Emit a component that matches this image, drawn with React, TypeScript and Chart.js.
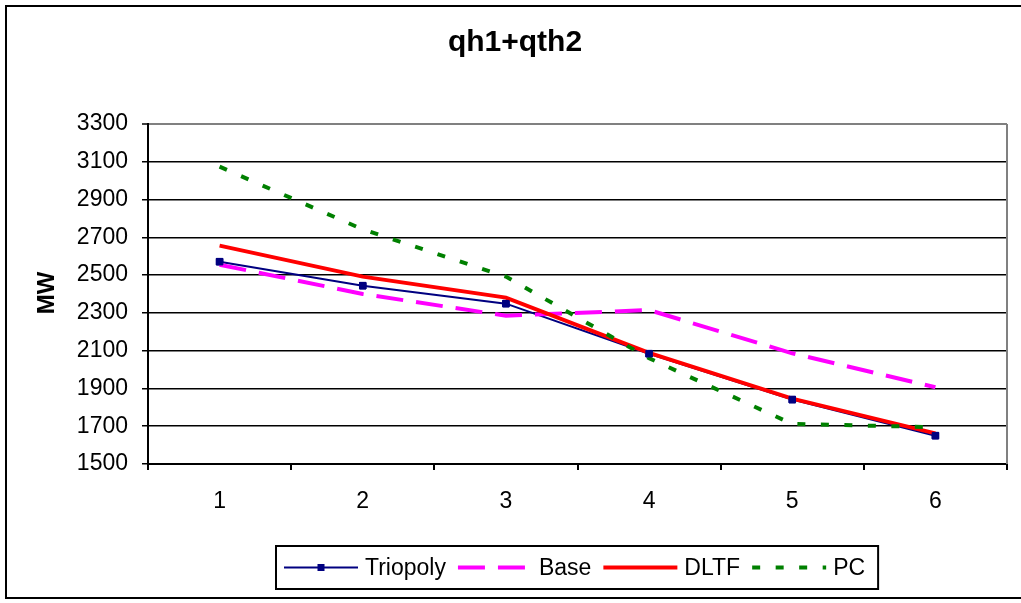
import React, { useEffect, useRef } from "react";
import { Chart, registerables } from "chart.js";

Chart.register(...registerables);

// ---- data ----
const categories = ["1", "2", "3", "4", "5", "6"];
const seriesNames = ["Triopoly", "Base", "DLTF", "PC"];
const triopolyValues = [2571, 2444, 2349, 2084, 1841, 1650];
const baseValues = [2555, 2400, 2285, 2315, 2086, 1906];
const dltfValues = [2656, 2492, 2381, 2088, 1846, 1662];
const pcValues = [3074, 2742, 2492, 2060, 1712, 1695];
const yMin = 1500;
const yMax = 3300;
const yStep = 200;
const chartTitle = "qh1+qth2";
const yAxisTitle = "MW";

const FONT = '"Liberation Sans", Arial, sans-serif';

const decorPlugin = {
  id: "decor",
  afterDatasetsDraw(chart: any) {
    // markers of the first series sit above all lines
    const meta = chart.getDatasetMeta(0);
    const ctx = chart.ctx;
    ctx.save();
    meta.data.forEach((p: any) => p.draw(ctx, chart.chartArea));
    ctx.restore();
  },
  afterDraw(chart: any) {
    const ctx = chart.ctx;
    const ca = chart.chartArea;
    ctx.save();
    // plot area right border (gray)
    ctx.strokeStyle = "#808080";
    ctx.lineWidth = 2;
    ctx.beginPath();
    ctx.moveTo(ca.right, ca.top);
    ctx.lineTo(ca.right, ca.bottom);
    ctx.stroke();

    // outer chart border
    ctx.strokeStyle = "#000";
    ctx.lineWidth = 2;
    ctx.strokeRect(6, 6, 1100, 592);

    // title
    ctx.fillStyle = "#000";
    ctx.font = `bold 30px ${FONT}`;
    ctx.textAlign = "center";
    ctx.textBaseline = "alphabetic";
    ctx.fillText(chartTitle, 515, 51);

    // y axis title
    ctx.save();
    ctx.translate(47, 293);
    ctx.rotate(-Math.PI / 2);
    ctx.font = `bold 24px ${FONT}`;
    ctx.textAlign = "center";
    ctx.textBaseline = "middle";
    ctx.fillText(yAxisTitle, 0, 0);
    ctx.restore();

    // legend
    ctx.font = `23px ${FONT}`;
    const pad = 8, sampleW = 74, textGap = 7, itemGap = 12, padR = 13;
    const ds = chart.data.datasets;
    const widths = ds.map((d: any) => ctx.measureText(d.label).width);
    let total = pad + padR + itemGap * (ds.length - 1);
    widths.forEach((w: number) => (total += sampleW + textGap + w));
    const boxX = Math.round((ca.left + ca.right) / 2 - total / 2);
    const boxY = 546;
    const boxH = 43;
    const cy = boxY + boxH / 2;
    ctx.strokeStyle = "#000";
    ctx.lineWidth = 2;
    ctx.strokeRect(boxX, boxY, total, boxH);
    let x = boxX + pad;
    ds.forEach((d: any, i: number) => {
      ctx.save();
      ctx.strokeStyle = d.borderColor;
      ctx.lineWidth = d.borderWidth;
      ctx.setLineDash(d.borderDash || []);
      ctx.lineCap = "butt";
      ctx.beginPath();
      ctx.moveTo(x, cy);
      ctx.lineTo(x + sampleW, cy);
      ctx.stroke();
      if (d.pointRadius > 0) {
        ctx.fillStyle = d.pointBackgroundColor;
        ctx.fillRect(x + sampleW / 2 - 3.5, cy - 3.5, 7, 7);
      }
      ctx.restore();
      x += sampleW + textGap;
      ctx.fillStyle = "#000";
      ctx.textAlign = "left";
      ctx.textBaseline = "middle";
      ctx.fillText(d.label, x, cy + 1);
      x += widths[i] + itemGap;
    });
    ctx.restore();
  },
};

export default function App() {
  const canvasRef = useRef<HTMLCanvasElement | null>(null);

  useEffect(() => {
    document.body.style.margin = "0";
    const canvas = canvasRef.current;
    if (!canvas) return;
    const chart = new Chart(canvas, {
      type: "line",
      data: {
        labels: categories,
        datasets: [
          {
            label: seriesNames[0],
            data: triopolyValues,
            borderColor: "#000080",
            backgroundColor: "#000080",
            borderWidth: 2,
            pointStyle: "rect",
            pointRadius: 4.6,
            pointBorderWidth: 1,
            pointBackgroundColor: "#000080",
            pointBorderColor: "#000080",
            tension: 0,
            order: 3,
          },
          {
            label: seriesNames[1],
            data: baseValues,
            borderColor: "#FF00FF",
            backgroundColor: "#FF00FF",
            borderWidth: 4,
            borderDash: [27, 13],
            pointRadius: 0,
            tension: 0,
            order: 2,
          },
          {
            label: seriesNames[2],
            data: dltfValues,
            borderColor: "#FF0000",
            backgroundColor: "#FF0000",
            borderWidth: 4,
            pointRadius: 0,
            tension: 0,
            order: 1,
          },
          {
            label: seriesNames[3],
            data: pcValues,
            borderColor: "#008000",
            backgroundColor: "#008000",
            borderWidth: 4,
            borderDash: [8, 15.5],
            pointRadius: 0,
            tension: 0,
            order: 0,
          },
        ],
      },
      options: {
        responsive: false,
        animation: false,
        events: [],
        layout: { padding: { top: 124, right: 14, bottom: 0, left: 0 } },
        plugins: {
          legend: { display: false },
          title: { display: false },
          tooltip: { enabled: false },
        },
        scales: {
          x: {
            offset: true,
            ticks: {
              color: "#000",
              font: { family: FONT, size: 23 },
              padding: 18,
              maxRotation: 0,
            },
            grid: {
              offset: true,
              drawOnChartArea: false,
              tickLength: 6,
              color: "#000",
              lineWidth: 2,
            },
            border: { color: "#000", width: 2 },
            afterFit: (s: any) => {
              s.height = 139;
            },
          },
          y: {
            min: yMin,
            max: yMax,
            ticks: {
              stepSize: yStep,
              color: "#000",
              font: { family: FONT, size: 23 },
              padding: 14,
              callback: (v: any) => String(v),
            },
            grid: {
              color: (c: any) => (c.tick && c.tick.value === yMax ? "#808080" : "#000"),
              lineWidth: (c: any) => (c.tick && c.tick.value === yMax ? 2 : 1.5),
              tickColor: "#000",
              tickWidth: 1.5,
              tickLength: 6,
            },
            border: { color: "#000", width: 2 },
            afterFit: (s: any) => {
              s.width = 148;
            },
          },
        },
      },
      plugins: [decorPlugin],
    });
    return () => chart.destroy();
  }, []);

  return (
    <div style={{ width: 1021, height: 603, background: "#fff" }}>
      <canvas ref={canvasRef} width={1021} height={603} style={{ display: "block" }} />
    </div>
  );
}
